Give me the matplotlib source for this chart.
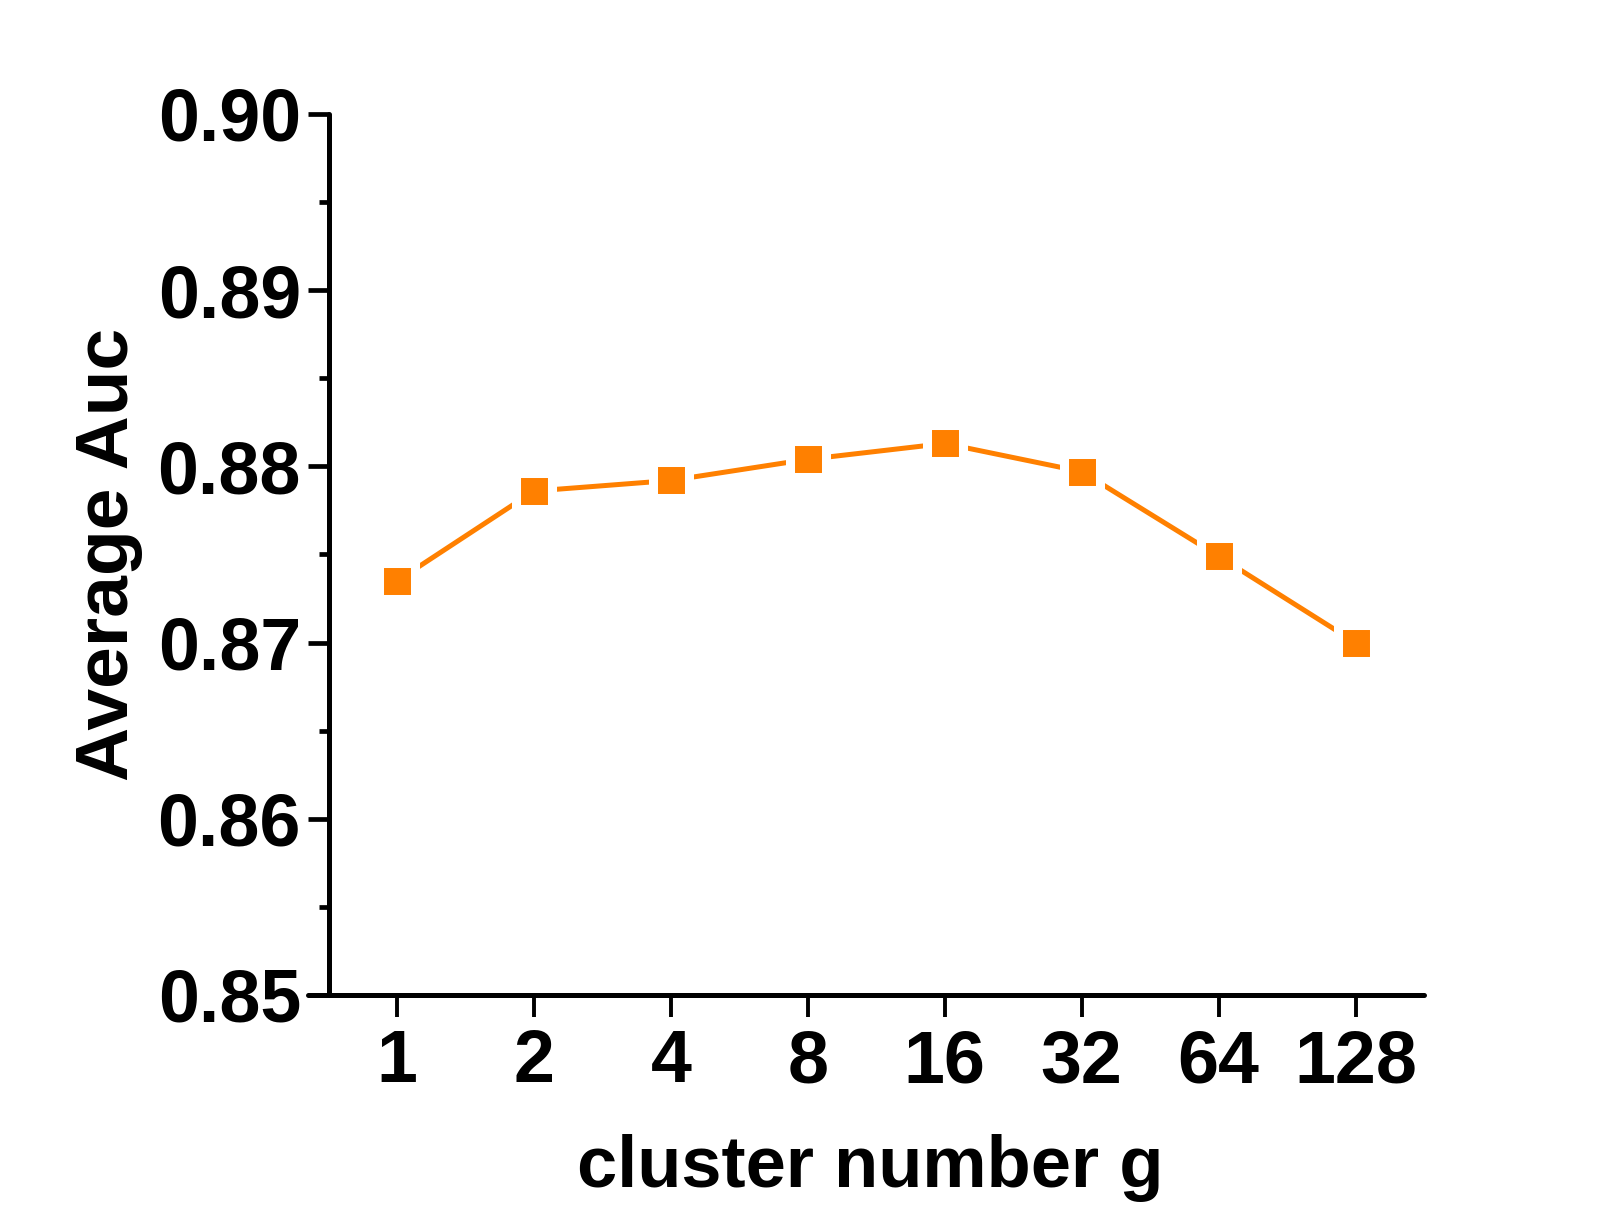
import numpy as np
import matplotlib
matplotlib.use('Agg')
from matplotlib import pyplot as plt
from matplotlib.ticker import MultipleLocator

# values
clusters = ['1', '2', '4', '8', '16', '32', '64', '128']
avg_auc = [0.8735, 0.8786, 0.8792, 0.8804, 0.8813, 0.8797, 0.8749, 0.8700]

plt.rcParams['font.family'] = ['Liberation Sans', 'DejaVu Sans']
plt.rcParams['font.weight'] = 'bold'

fig = plt.figure(figsize=(16.09, 12.32), dpi=100)
ax = fig.add_axes([0.1915, 0.1924, 0.885 - 0.1915, 0.9075 - 0.1924])

x = np.arange(len(clusters))
ax.plot(x, avg_auc, color='#FF8000', linewidth=3.6, marker='s',
        markersize=26, markerfacecolor='#FF8000', markeredgecolor='white',
        markeredgewidth=6.5, zorder=3)

ax.set_xlim(-0.65, 7.5)
ax.set_ylim(0.85, 0.90)
ax.set_xticks(x)
ax.set_xticklabels(clusters)
ax.yaxis.set_major_locator(MultipleLocator(0.01))
ax.yaxis.set_minor_locator(MultipleLocator(0.005))
ax.yaxis.set_major_formatter(matplotlib.ticker.FormatStrFormatter('%.2f'))

ax.spines['top'].set_visible(False)
ax.spines['right'].set_visible(False)
ax.spines['left'].set_position(('data', -0.5))
for s in ['left', 'bottom']:
    ax.spines[s].set_linewidth(3.6)
    ax.spines[s].set_capstyle('round')

ax.tick_params(axis='y', which='major', length=15, width=3.4, labelsize=53, pad=5)
ax.tick_params(axis='y', which='minor', length=7.5, width=3.4)
ax.tick_params(axis='x', which='major', length=16, width=2.8, labelsize=53, pad=8)
for lab in ax.get_xticklabels() + ax.get_yticklabels():
    lab.set_fontweight('bold')

ax.set_xlabel('cluster number g', fontsize=52, fontweight='bold')
ax.xaxis.set_label_coords(0.504, -0.158)
ax.set_ylabel('Average Auc', fontsize=54, fontweight='bold')
ax.yaxis.set_label_coords(-0.148, 0.5)

fig.savefig('out.png', dpi=100)
